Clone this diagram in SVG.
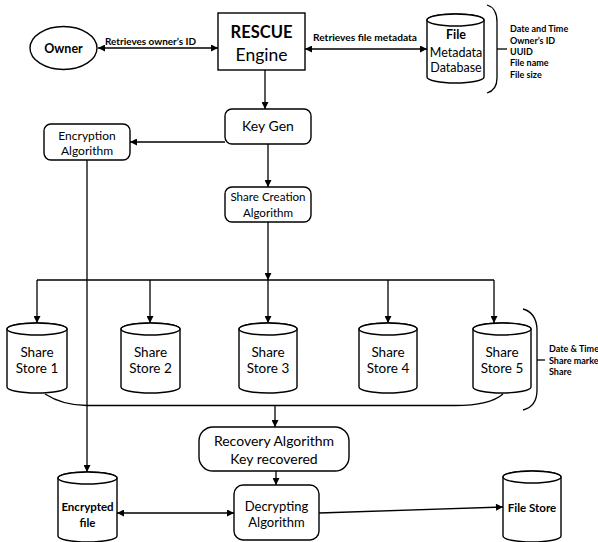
<svg xmlns="http://www.w3.org/2000/svg" width="598" height="542" viewBox="0 0 598 542">
<style>
  .shape { fill: #ffffff; stroke: #000000; stroke-width: 1.4; }
  .line { fill: none; stroke: #000000; stroke-width: 1.3; }
  .t { font-family: Lato, "Liberation Sans", sans-serif; fill: #000000; text-anchor: middle; }
  .lbl { font-family: Lato, "Liberation Sans", sans-serif; fill: #000000; font-weight: bold; font-size: 9px; }
</style>
<defs>
  <marker id="ah" viewBox="0 0 10 10" refX="10" refY="5" markerWidth="8" markerHeight="7" markerUnits="userSpaceOnUse" orient="auto-start-reverse">
    <path d="M0,0 L10,5 L0,10 Z" fill="#000000"/>
  </marker>
</defs>
<rect width="598" height="542" fill="#ffffff"/>

<g id="connectors">
  <line class="line" x1="98" y1="48" x2="218" y2="48" marker-start="url(#ah)" marker-end="url(#ah)"/>
  <line class="line" x1="305" y1="49" x2="427" y2="49" marker-start="url(#ah)" marker-end="url(#ah)"/>
  <line class="line" x1="265" y1="70" x2="265" y2="109" marker-end="url(#ah)"/>
  <line class="line" x1="225" y1="142" x2="130" y2="142" marker-end="url(#ah)"/>
  <line class="line" x1="268" y1="144" x2="268" y2="187" marker-end="url(#ah)"/>
  <line class="line" x1="268" y1="222" x2="268" y2="280" marker-end="url(#ah)"/>
  <line class="line" x1="37" y1="280" x2="494" y2="280"/>
  <line class="line" x1="37" y1="280" x2="37" y2="323" marker-end="url(#ah)"/>
  <line class="line" x1="150" y1="280" x2="150" y2="323" marker-end="url(#ah)"/>
  <line class="line" x1="268" y1="280" x2="268" y2="323" marker-end="url(#ah)"/>
  <line class="line" x1="388" y1="280" x2="388" y2="323" marker-end="url(#ah)"/>
  <line class="line" x1="494" y1="280" x2="494" y2="323" marker-end="url(#ah)"/>
  <line class="line" x1="87" y1="160" x2="87" y2="472" marker-end="url(#ah)"/>
  <path class="line" d="M45,394 C56,401 70,405.5 87,405.5 L455,405.5 C478,405.5 495,401 503,394"/>
  <line class="line" x1="275" y1="405.5" x2="275" y2="427" marker-end="url(#ah)"/>
  <line class="line" x1="276" y1="471" x2="276" y2="485" marker-end="url(#ah)"/>
  <line class="line" x1="117" y1="513" x2="234" y2="513" marker-start="url(#ah)" marker-end="url(#ah)"/>
  <line class="line" x1="319" y1="513" x2="503" y2="507" marker-end="url(#ah)"/>
</g>

<g id="owner">
  <ellipse class="shape" cx="63.5" cy="48" rx="33.5" ry="21.5"/>
  <text class="t" x="63.5" y="53" font-size="12.5" font-weight="bold">Owner</text>
</g>
<text class="lbl" x="105" y="45" font-size="10.8" textLength="91" lengthAdjust="spacingAndGlyphs">Retrieves owner’s ID</text>

<g id="rescue-engine">
  <rect class="shape" x="218" y="13" width="87" height="57" stroke-width="1.6"/>
  <text class="t" x="261.5" y="38" font-size="16.5" font-weight="bold">RESCUE</text>
  <text class="t" x="261.5" y="61" font-size="17.5">Engine</text>
</g>
<text class="lbl" x="313" y="41" font-size="11" textLength="104" lengthAdjust="spacingAndGlyphs">Retrieves file metadata</text>

<g id="file-metadata-db">
  <path class="shape" d="M427,20 A28.5,6 0 0 1 484,20 V77 A28.5,6 0 0 1 427,77 Z"/>
  <ellipse class="shape" cx="455.5" cy="20" rx="28.5" ry="6"/>
  <text class="t" x="456" y="39" font-size="12.5" font-weight="bold">File</text>
  <text class="t" x="456" y="57" font-size="12.5">Metadata</text>
  <text class="t" x="456" y="72" font-size="12.5">Database</text>
</g>

<g id="metadata-fields">
  <path class="line" d="M487,5 C494,7 497,14 497,22 L497,78 C497,86 494,91 487,93"/>
  <line class="line" x1="497" y1="49" x2="507" y2="49" stroke-width="1.8"/>
  <text class="lbl" x="510" y="32">Date and Time</text>
  <text class="lbl" x="510" y="44">Owner’s ID</text>
  <text class="lbl" x="510" y="55">UUID</text>
  <text class="lbl" x="510" y="66">File name</text>
  <text class="lbl" x="510" y="78">File size</text>
</g>

<g id="key-gen">
  <rect class="shape" x="225" y="109" width="86" height="35" rx="7"/>
  <text class="t" x="268" y="131" font-size="14">Key Gen</text>
</g>

<g id="encryption-algorithm">
  <rect class="shape" x="44" y="124" width="86" height="36" rx="7"/>
  <text class="t" x="87" y="140" font-size="12">Encryption</text>
  <text class="t" x="87" y="155" font-size="12">Algorithm</text>
</g>

<g id="share-creation">
  <rect class="shape" x="225" y="187" width="86" height="35" rx="7"/>
  <text class="t" x="268" y="201" font-size="11.6">Share Creation</text>
  <text class="t" x="268" y="217" font-size="11.6">Algorithm</text>
</g>

<g id="share-store-1">
  <path class="shape" d="M7,329 A30,6 0 0 1 67,329 V387 A30,6 0 0 1 7,387 Z"/>
  <ellipse class="shape" cx="37" cy="329" rx="30" ry="6"/>
  <text class="t" x="37" y="357" font-size="13.5">Share</text>
  <text class="t" x="37" y="373" font-size="13.5">Store 1</text>
</g>
<g id="share-store-2">
  <path class="shape" d="M121,329 A29.5,6 0 0 1 180,329 V387 A29.5,6 0 0 1 121,387 Z"/>
  <ellipse class="shape" cx="150.5" cy="329" rx="29.5" ry="6"/>
  <text class="t" x="150.5" y="357" font-size="13.5">Share</text>
  <text class="t" x="150.5" y="373" font-size="13.5">Store 2</text>
</g>
<g id="share-store-3">
  <path class="shape" d="M239,329 A29,6 0 0 1 297,329 V387 A29,6 0 0 1 239,387 Z"/>
  <ellipse class="shape" cx="268" cy="329" rx="29" ry="6"/>
  <text class="t" x="268" y="357" font-size="13.5">Share</text>
  <text class="t" x="268" y="373" font-size="13.5">Store 3</text>
</g>
<g id="share-store-4">
  <path class="shape" d="M359,329 A29,6 0 0 1 417,329 V387 A29,6 0 0 1 359,387 Z"/>
  <ellipse class="shape" cx="388" cy="329" rx="29" ry="6"/>
  <text class="t" x="388" y="357" font-size="13.5">Share</text>
  <text class="t" x="388" y="373" font-size="13.5">Store 4</text>
</g>
<g id="share-store-5">
  <path class="shape" d="M473,329 A29,6 0 0 1 531,329 V387 A29,6 0 0 1 473,387 Z"/>
  <ellipse class="shape" cx="502" cy="329" rx="29" ry="6"/>
  <text class="t" x="502" y="357" font-size="13.5">Share</text>
  <text class="t" x="502" y="373" font-size="13.5">Store 5</text>
</g>

<g id="share-fields">
  <path class="line" d="M523,309 C531,311 537,318 537,330 L537,390 C537,402 531,408 523,410"/>
  <line class="line" x1="537" y1="360" x2="545" y2="360" stroke-width="1.6"/>
  <text class="lbl" x="549" y="352">Date &amp; Time</text>
  <text class="lbl" x="549" y="364">Share marke</text>
  <text class="lbl" x="549" y="375">Share</text>
</g>

<g id="recovery-algorithm">
  <rect class="shape" x="199" y="427" width="150" height="44" rx="14"/>
  <text class="t" x="274" y="446" font-size="14">Recovery Algorithm</text>
  <text class="t" x="274" y="464" font-size="14">Key recovered</text>
</g>

<g id="encrypted-file">
  <path class="shape" d="M58,478 A29.5,6 0 0 1 117,478 V536 A29.5,6 0 0 1 58,536 Z"/>
  <ellipse class="shape" cx="87.5" cy="478" rx="29.5" ry="6"/>
  <text class="t" x="87.5" y="511" font-size="11.5" font-weight="bold">Encrypted</text>
  <text class="t" x="87.5" y="527" font-size="11.5" font-weight="bold">file</text>
</g>

<g id="decrypting-algorithm">
  <rect class="shape" x="234" y="485" width="85" height="55" rx="9"/>
  <text class="t" x="276.5" y="511" font-size="13">Decrypting</text>
  <text class="t" x="276.5" y="527" font-size="13">Algorithm</text>
</g>

<g id="file-store">
  <path class="shape" d="M503,477 A29,6 0 0 1 561,477 V536 A29,6 0 0 1 503,536 Z"/>
  <ellipse class="shape" cx="532" cy="477" rx="29" ry="6"/>
  <text class="t" x="532" y="512" font-size="11.5" font-weight="bold">File Store</text>
</g>
</svg>
